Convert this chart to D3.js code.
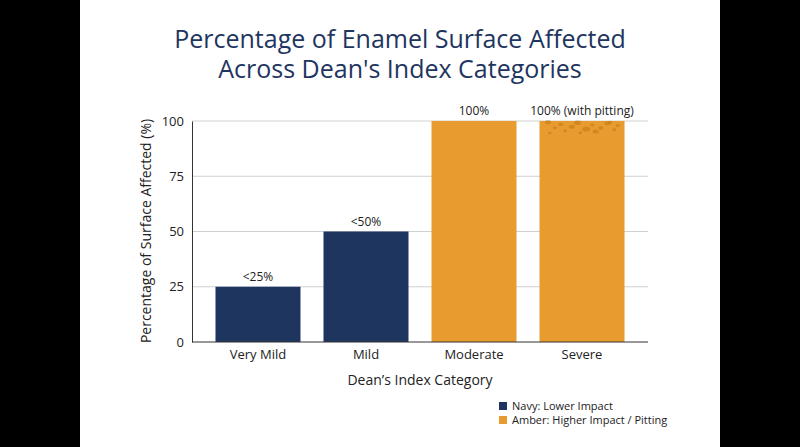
<!DOCTYPE html>
<html><head><meta charset="utf-8">
<script src="https://cdn.jsdelivr.net/npm/d3@7"></script>
<style>body{margin:0;background:#000}svg{display:block}</style>
</head><body>
<svg id="c" width="800" height="447"></svg>
<script>
const categories = ["Very Mild","Mild","Moderate","Severe"];
const values = [25,50,100,100];
const labels = ["<25%","<50%","100%","100% (with pitting)"];
const groups = ["navy","navy","amber","amber"];
const yTicks = [0,25,50,75,100];
const legendItems = [["navy","Navy: Lower Impact"],["amber","Amber: Higher Impact / Pitting"]];
const pits = [[0.1,0.03,3,2],[0.25,0.08,2.5,1.8],[0.45,0.04,3.5,2.2],[0.62,0.09,2,1.5],[0.8,0.05,3,2],[0.92,0.1,2,1.5],[0.18,0.15,2,1.5],[0.38,0.13,3,2],[0.55,0.18,4,2.5],[0.72,0.16,2.5,1.8],[0.88,0.2,2,1.5],[0.3,0.22,2,1.5],[0.48,0.27,2,1.4],[0.66,0.24,3,2],[0.12,0.27,1.8,1.3],[0.83,0.03,2.2,1.5]];
const colors = {navy:"#1e3560", amber:"#e89b2e"};
const svg = d3.select("#c");
svg.append("rect").attr("x",80).attr("y",0).attr("width",640).attr("height",447).attr("fill","#fff");
const F = "'Open Sans', sans-serif";
const x = d3.scaleBand().domain(categories).range([192,648]).paddingInner(0.213).paddingOuter(0.2175);
const y = d3.scaleLinear().domain([0,100]).range([342,121]);
svg.append("g").selectAll("line").data(yTicks.filter(d=>d>0)).join("line")
 .attr("x1",192).attr("x2",648).attr("y1",d=>y(d)).attr("y2",d=>y(d)).attr("stroke","#d0d0d0");
svg.append("g").selectAll("rect").data(categories).join("rect")
 .attr("x",d=>x(d)).attr("width",x.bandwidth()).attr("y",(d,i)=>y(values[i])).attr("height",(d,i)=>y(0)-y(values[i]))
 .attr("fill",(d,i)=>colors[groups[i]]);
const sv = categories[3], barTop = y(values[3]), barH = y(0)-barTop;
svg.append("g").selectAll("ellipse").data(pits).join("ellipse")
 .attr("cx",p=>x(sv)+p[0]*x.bandwidth()).attr("cy",p=>barTop+p[1]*barH*0.2).attr("rx",p=>p[2]).attr("ry",p=>p[3])
 .attr("fill","#c97f1c").attr("opacity",0.7);
svg.append("g").selectAll("text").data(categories).join("text")
 .attr("x",d=>x(d)+x.bandwidth()/2).attr("y",(d,i)=>y(values[i])-6).attr("text-anchor","middle")
 .attr("font-family",F).attr("font-size",12).attr("fill","#222").text((d,i)=>labels[i]);
const ya = svg.append("g").attr("transform","translate(192,0)").call(d3.axisLeft(y).tickValues(yTicks).tickSize(0).tickPadding(8));
ya.select(".domain").attr("stroke","#333");
ya.selectAll("text").attr("font-family",F).attr("font-size",13).attr("fill","#222");
const xa = svg.append("g").attr("transform","translate(0,342)").call(d3.axisBottom(x).tickSize(0).tickPadding(8));
xa.select(".domain").attr("stroke","#333").attr("d","M192,0H648");
xa.selectAll("text").attr("font-family",F).attr("font-size",13).attr("fill","#222");
svg.append("text").attr("x",400).attr("y",48).attr("text-anchor","middle").attr("font-family",F).attr("font-size",25).attr("fill","#1e3560").text("Percentage of Enamel Surface Affected");
svg.append("text").attr("x",400).attr("y",78).attr("text-anchor","middle").attr("font-family",F).attr("font-size",25).attr("fill","#1e3560").text("Across Dean's Index Categories");
svg.append("text").attr("transform","translate(151,231) rotate(-90)").attr("text-anchor","middle").attr("font-family",F).attr("font-size",14).attr("fill","#222").text("Percentage of Surface Affected (%)");
svg.append("text").attr("x",420).attr("y",385).attr("text-anchor","middle").attr("font-family",F).attr("font-size",14).attr("fill","#222").text("Dean’s Index Category");
const lg = svg.append("g").selectAll("g").data(legendItems).join("g").attr("transform",(d,i)=>`translate(499,${406+i*14})`);
lg.append("rect").attr("width",8).attr("height",8).attr("y",-4).attr("fill",d=>colors[d[0]]);
lg.append("text").attr("x",13).attr("dy","0.35em").attr("font-family",F).attr("font-size",11).attr("fill","#222").text(d=>d[1]);
</script></body></html>
